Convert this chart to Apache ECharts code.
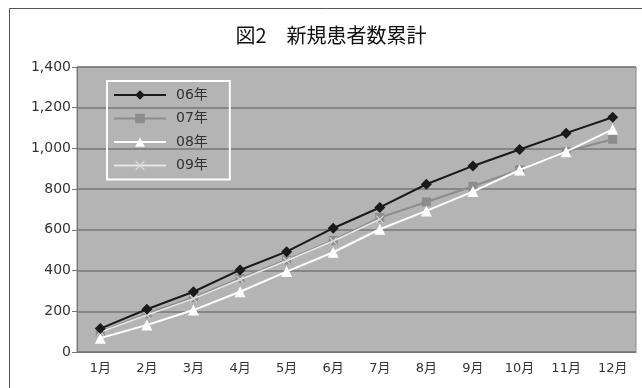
<!DOCTYPE html>
<html>
<head>
<meta charset="utf-8">
<script src="https://cdn.jsdelivr.net/npm/echarts@6/dist/echarts.min.js"></script>
<style>
  html, body { margin: 0; padding: 0; background: #fff; }
  #chart { width: 642px; height: 388px; }
</style>
</head>
<body>
<div id="chart"></div>
<script>
// データ
const months = ['1月', '2月', '3月', '4月', '5月', '6月', '7月', '8月', '9月', '10月', '11月', '12月'];
const yTicks = [0, 200, 400, 600, 800, 1000, 1200, 1400];
const data06 = [115, 210, 296, 403, 493, 608, 710, 824, 914, 995, 1075, 1153];
const data07 = [100, 188, 268, 362, 452, 548, 660, 737, 814, 895, 985, 1045];
const data08 = [68, 133, 206, 296, 395, 490, 603, 693, 788, 894, 984, 1094];
const data09 = [98, 182, 262, 356, 448, 545, 652];

const font = '"Noto Sans CJK JP", "Noto Sans", sans-serif';
const numFont = '"DejaVu Sans", "Noto Sans CJK JP", sans-serif';
const xMark = 'path://M0,1L1,0L5,4L9,0L10,1L6,5L10,9L9,10L5,6L1,10L0,9L4,5Z';

const chart = echarts.init(document.getElementById('chart'));

const option = {
    backgroundColor: '#fff',
    animation: false,
    textStyle: { fontFamily: font },
    title: {
        text: '図2　新規患者数累計',
        left: 326,
        top: 20,
        textAlign: 'center',
        textStyle: { fontSize: 20, fontWeight: 'normal', color: '#111', fontFamily: font }
    },
    graphic: [{
        type: 'rect',
        shape: { x: 9.5, y: 8.5, width: 700, height: 500 },
        style: { fill: 'none', stroke: '#555', lineWidth: 1 },
        z: -1
    }],
    legend: {
        orient: 'vertical',
        left: 107,
        top: 81,
        padding: [7, 22, 7, 6],
        itemWidth: 52,
        itemHeight: 12,
        itemGap: 9.5,
        borderColor: '#fff',
        borderWidth: 2,
        backgroundColor: 'transparent',
        textStyle: { fontSize: 14, color: '#333', fontFamily: numFont, padding: [0, 0, 0, 5] },
        data: ['06年', '07年', '08年', '09年']
    },
    grid: {
        left: 77,
        right: 6,
        top: 67,
        bottom: 36,
        show: true,
        backgroundColor: '#b4b4b4',
        borderColor: '#8a8a8a',
        borderWidth: 1
    },
    xAxis: {
        type: 'category',
        data: months,
        boundaryGap: true,
        axisLine: { lineStyle: { color: '#777', width: 1 } },
        axisTick: { inside: true, length: 4, lineStyle: { color: '#777' } },
        axisLabel: { fontSize: 13, color: '#333', margin: 10, fontFamily: numFont },
        splitLine: { show: false }
    },
    yAxis: {
        type: 'value',
        min: yTicks[0],
        max: yTicks[yTicks.length - 1],
        interval: 200,
        axisLine: { show: true, lineStyle: { color: '#777', width: 1 } },
        axisTick: { show: true, length: 5, lineStyle: { color: '#777' } },
        axisLabel: {
            fontSize: 14,
            color: '#333',
            margin: 6,
            fontFamily: numFont,
            formatter: v => v.toLocaleString('en-US')
        },
        splitLine: { show: true, lineStyle: { color: '#777', width: 1.5 } }
    },
    series: [
        {
            name: '06年',
            type: 'line',
            data: data06,
            symbol: 'diamond',
            symbolSize: 11,
            lineStyle: { color: '#1a1a1a', width: 2 },
            itemStyle: { color: '#1a1a1a' },
            z: 5
        },
        {
            name: '07年',
            type: 'line',
            data: data07,
            symbol: 'rect',
            symbolSize: 9,
            lineStyle: { color: '#8c8c8c', width: 2 },
            itemStyle: { color: '#8c8c8c' },
            z: 2
        },
        {
            name: '08年',
            type: 'line',
            data: data08,
            symbol: 'triangle',
            symbolSize: 11,
            lineStyle: { color: '#ffffff', width: 2 },
            itemStyle: { color: '#ffffff' },
            z: 4
        },
        {
            name: '09年',
            type: 'line',
            data: data09,
            symbol: xMark,
            symbolSize: 8,
            lineStyle: { color: '#e6e6e6', width: 1.5 },
            itemStyle: { color: '#d8d8d8' },
            z: 3
        }
    ]
};

chart.setOption(option);

window.addEventListener('resize', function() {
    chart.resize();
});
</script>
</body>
</html>
